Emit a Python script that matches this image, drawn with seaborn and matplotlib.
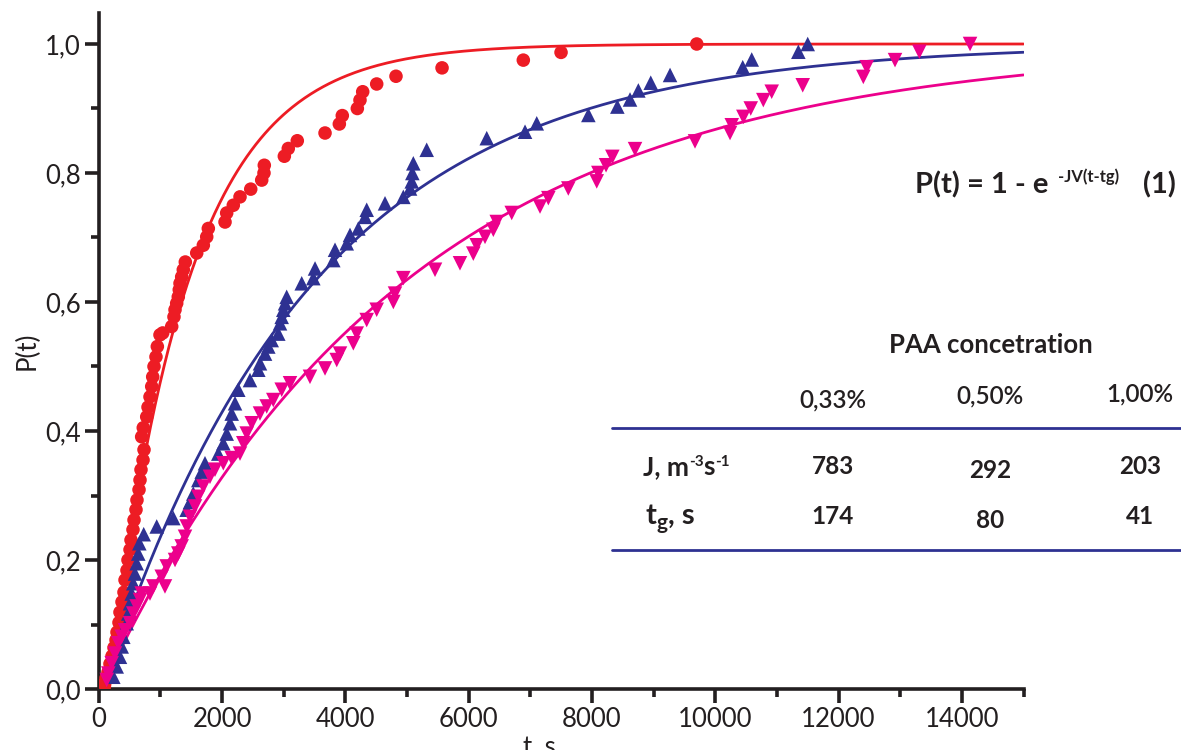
import numpy as np
import pandas as pd
import matplotlib
matplotlib.use("Agg")
import matplotlib.pyplot as plt
from matplotlib.lines import Line2D
import seaborn as sns

# ---- measured points: time (s) and fraction P(t) ----
t_033 = [86, 118, 151, 183, 216, 248, 281, 297, 329, 345, 378, 410, 427, 459, 475, 508,
         524, 556, 573, 605, 621, 654, 670, 686, 719, 735, 697, 723, 779, 800, 832, 860,
         876, 897, 929, 951, 994, 1038, 1184, 1221, 1238, 1265, 1291, 1307, 1319, 1346,
         1372, 1405, 1590, 1697, 1752, 1778, 2049, 2076, 2183, 2292, 2466, 2644, 2681,
         2686, 3011, 3075, 3221, 3671, 3903, 3951, 4195, 4238, 4282, 4509, 4822, 5569,
         6887, 7499, 9700]
p_033 = [0.008, 0.017, 0.026, 0.039, 0.051, 0.064, 0.076, 0.088, 0.103, 0.119, 0.135, 0.150,
         0.169, 0.184, 0.200, 0.216, 0.231, 0.247, 0.262, 0.278, 0.293, 0.309, 0.324, 0.340,
         0.355, 0.371, 0.391, 0.405, 0.422, 0.437, 0.453, 0.469, 0.484, 0.500, 0.515, 0.531,
         0.549, 0.552, 0.562, 0.577, 0.588, 0.598, 0.608, 0.619, 0.629, 0.639, 0.650, 0.662,
         0.676, 0.688, 0.701, 0.714, 0.724, 0.738, 0.750, 0.763, 0.775, 0.789, 0.800, 0.812,
         0.826, 0.838, 0.850, 0.862, 0.876, 0.889, 0.900, 0.913, 0.926, 0.938, 0.950, 0.963,
         0.975, 0.987, 1.000]

t_050 = [237, 292, 345, 373, 399, 454, 480, 508, 535, 561, 589, 616, 642, 659, 730, 941,
         1210, 1427, 1481, 1534, 1616, 1671, 1724, 1940, 2021, 2076, 2130, 2157, 2211, 2264,
         2454, 2589, 2616, 2698, 2751, 2806, 2913, 2941, 2968, 2994, 3022, 3049, 3293, 3481,
         3509, 3805, 3833, 4023, 4076, 4211, 4320, 4347, 4644, 4941, 5050, 5077, 5087, 5103,
         5320, 6294, 6915, 7105, 7942, 8412, 8618, 8753, 8954, 9267, 10446, 10592, 11348,
         11500]
p_050 = [0.019, 0.035, 0.050, 0.066, 0.081, 0.102, 0.117, 0.133, 0.148, 0.164, 0.179, 0.195,
         0.210, 0.226, 0.240, 0.252, 0.265, 0.278, 0.290, 0.303, 0.324, 0.337, 0.350, 0.365,
         0.381, 0.396, 0.412, 0.427, 0.443, 0.464, 0.479, 0.495, 0.505, 0.520, 0.531, 0.541,
         0.551, 0.567, 0.577, 0.588, 0.598, 0.608, 0.629, 0.637, 0.652, 0.665, 0.681, 0.691,
         0.704, 0.714, 0.732, 0.743, 0.753, 0.763, 0.776, 0.787, 0.800, 0.815, 0.836, 0.854,
         0.864, 0.877, 0.890, 0.903, 0.914, 0.928, 0.940, 0.952, 0.964, 0.976, 0.988, 1.000]

t_100 = [130, 156, 211, 264, 318, 373, 427, 508, 561, 616, 670, 697, 832, 886, 1022, 1075,
         1103, 1238, 1291, 1346, 1400, 1427, 1481, 1562, 1616, 1697, 1805, 1886, 2021, 2157,
         2292, 2345, 2401, 2482, 2616, 2725, 2832, 2968, 3103, 3427, 3671, 3861, 3914, 4130,
         4185, 4347, 4509, 4779, 4806, 4941, 5455, 5860, 6076, 6131, 6266, 6401, 6456, 6699,
         7158, 7293, 7617, 8078, 8104, 8229, 8331, 8699, 9672, 10240, 10268, 10456, 10576,
         10780, 10916, 11419, 12402, 12457, 12916, 13311, 14133]
p_100 = [0.014, 0.024, 0.040, 0.055, 0.071, 0.081, 0.091, 0.102, 0.117, 0.128, 0.138, 0.148,
         0.148, 0.159, 0.174, 0.159, 0.190, 0.200, 0.210, 0.221, 0.236, 0.252, 0.267, 0.283,
         0.298, 0.314, 0.329, 0.340, 0.350, 0.358, 0.365, 0.381, 0.396, 0.412, 0.427, 0.438,
         0.448, 0.464, 0.474, 0.484, 0.497, 0.510, 0.520, 0.536, 0.551, 0.572, 0.588, 0.600,
         0.613, 0.637, 0.650, 0.660, 0.675, 0.688, 0.701, 0.712, 0.724, 0.738, 0.748, 0.761,
         0.776, 0.787, 0.800, 0.812, 0.825, 0.837, 0.849, 0.862, 0.874, 0.887, 0.900, 0.913,
         0.926, 0.936, 0.949, 0.964, 0.975, 0.988, 1.000]

# ---- fit parameters for P(t) = 1 - exp(-J V (t - tg)) ----
concentrations = ["0,33%", "0,50%", "1,00%"]
J_values = [783, 292, 203]          # m^-3 s^-1
tg_values = [174, 80, 41]           # s
V_drop = 1e-6                        # m^3

x_ticks = [0, 2000, 4000, 6000, 8000, 10000, 12000, 14000]
y_ticks = [0.0, 0.2, 0.4, 0.6, 0.8, 1.0]
y_tick_labels = ["0,0", "0,2", "0,4", "0,6", "0,8", "1,0"]

colors = ["#ED1C24", "#2E3192", "#EC008C"]
markers = ["o", "^", "v"]
INK = "#231F20"

# ---- style ----
sns.set_style("ticks")
plt.rcParams["font.family"] = ["Lato", "DejaVu Sans"]
plt.rcParams["text.color"] = INK
plt.rcParams["axes.labelcolor"] = INK

W, H = 1181, 750
fig = plt.figure(figsize=(W / 100, H / 100), dpi=100)
fig.patch.set_facecolor("white")

x0, x1 = 98.7, 1023.5
y0, y1 = 689, 13
ax = fig.add_axes([x0 / W, 1 - y0 / H, (x1 - x0) / W, (y0 - y1) / H])

frames = []
for name, t, p in zip(concentrations, [t_033, t_050, t_100], [p_033, p_050, p_100]):
    frames.append(pd.DataFrame({"t": t, "P": p, "conc": name}))
points = pd.concat(frames, ignore_index=True)

curve_frames = []
for name, J, tg in zip(concentrations, J_values, tg_values):
    tt = np.linspace(tg, 15000, 600)
    curve_frames.append(pd.DataFrame({"t": tt, "P": 1 - np.exp(-J * V_drop * (tt - tg)), "conc": name}))
curves = pd.concat(curve_frames, ignore_index=True)

palette = dict(zip(concentrations, colors))
marker_map = dict(zip(concentrations, markers))

sns.lineplot(data=curves, x="t", y="P", hue="conc", palette=palette, linewidth=2.0,
             legend=False, ax=ax, zorder=3)
for name in concentrations:
    sub = points[points["conc"] == name]
    sns.scatterplot(data=sub, x="t", y="P", color=palette[name], marker=marker_map[name],
                    s=95 if marker_map[name] == "o" else 110, edgecolor="none",
                    legend=False, ax=ax, zorder=4)

ax.set_xlim(0, 15000)
ax.set_ylim(0, (y0 - y1) / 645)
ax.set_xticks(x_ticks)
ax.set_xticks(np.arange(1000, 15001, 2000), minor=True)
ax.set_yticks(y_ticks)
ax.set_yticklabels(y_tick_labels)
ax.set_yticks(np.arange(0.1, 1.0, 0.2), minor=True)

for side in ["top", "right"]:
    ax.spines[side].set_visible(False)
for side in ["left", "bottom"]:
    ax.spines[side].set_linewidth(2.6)
    ax.spines[side].set_color(INK)

ax.tick_params(which="major", direction="out", length=10, width=2.6, color=INK,
               labelsize=18.5, pad=3, labelcolor=INK)
ax.tick_params(which="minor", direction="out", length=5.5, width=2.6, color=INK)
ax.set_xlabel("t, s", fontsize=18.5, labelpad=6)
ax.set_ylabel("P(t)", fontsize=18.5, labelpad=4)
ax.xaxis.set_label_coords(0.477, -0.068)

renderer = fig.canvas.get_renderer()


def run_text(x_px, base_px, pieces):
    """Write a row of text pieces left to right; each piece is (text, size, weight, rise_px)."""
    x = x_px
    for s, size, weight, rise in pieces:
        t = fig.text(x / W, 1 - (base_px - rise) / H, s, fontsize=size, fontweight=weight,
                     ha="left", va="baseline")
        bb = t.get_window_extent(renderer=renderer)
        x += bb.width


# ---- formula ----
run_text(915, 193, [("P(t) = 1 - e", 21, "bold", 0)])
run_text(1058, 193, [("-JV(t-tg)", 12, "bold", 11)])
run_text(1143, 193, [("(1)", 21, "bold", 0)])

# ---- parameter table ----
fig.text(991 / W, 1 - 345 / H, "PAA concetration", fontsize=18.5, fontweight="bold",
         ha="center", va="center")
col_x = [833, 990, 1140]
head_y = [400, 396, 394]
J_y = [467, 470, 467]
tg_y = [517, 520, 516]
for cx, hy, name in zip(col_x, head_y, concentrations):
    fig.text(cx / W, 1 - hy / H, name, fontsize=17.5, fontweight=600,
             ha="center", va="center")
for cx, jy, J in zip(col_x, J_y, J_values):
    fig.text(cx / W, 1 - jy / H, str(J), fontsize=17.5, fontweight="bold",
             ha="center", va="center")
for cx, ty, tg in zip(col_x, tg_y, tg_values):
    fig.text(cx / W, 1 - ty / H, str(tg), fontsize=17.5, fontweight="bold",
             ha="center", va="center")

run_text(643, 475, [("J, m", 19, "bold", 0), ("-3", 11, "bold", 9),
                    ("s", 19, "bold", 0), ("-1", 11, "bold", 9)])
run_text(646, 524, [("t", 21, "bold", 0), ("g", 15, "bold", -5), (", s", 21, "bold", 0)])

for ly in [428, 550]:
    fig.add_artist(Line2D([612 / W, 1.0], [1 - ly / H, 1 - ly / H],
                          transform=fig.transFigure, color="#2E3192", linewidth=2.0))

fig.savefig("out.png", dpi=100, facecolor="white")
